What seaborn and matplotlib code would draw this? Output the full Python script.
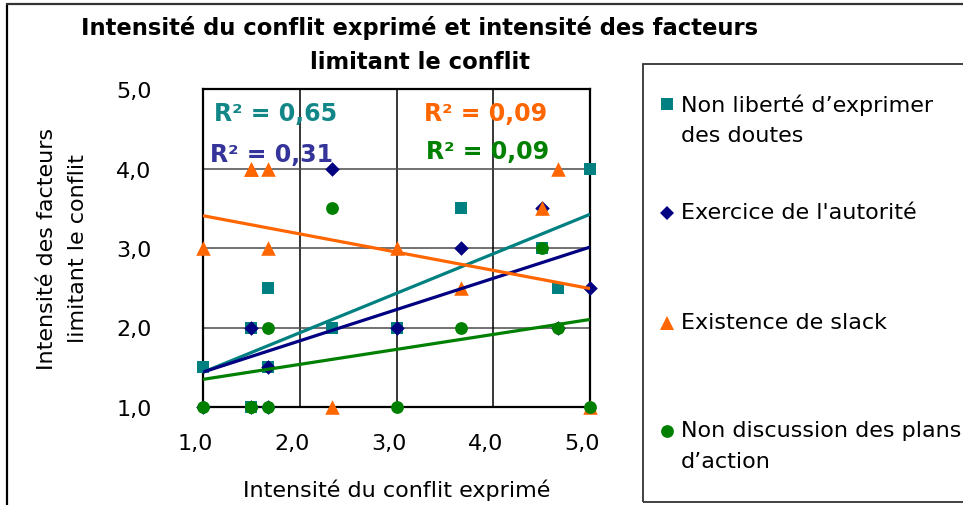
import numpy as np
import pandas as pd
import matplotlib
matplotlib.use("Agg")
import matplotlib.pyplot as plt
from matplotlib.lines import Line2D
from matplotlib.patches import Rectangle
from matplotlib.transforms import ScaledTranslation
import seaborn as sns

# Intensité du conflit exprimé (one value per respondent)
intensite_conflit = [1.0, 1.5, 1.5, 1.67, 1.67, 2.33, 3.0, 3.67, 4.5, 4.67, 5.0]

# Intensité des facteurs limitant le conflit, per factor
non_liberte = [1.5, 2.0, 1.0, 2.5, 1.5, 2.0, 2.0, 3.5, 3.0, 2.5, 4.0]
autorite = [1.0, 2.0, 1.0, 1.5, 1.0, 4.0, 2.0, 3.0, 3.5, 2.0, 2.5]
slack = [3.0, 4.0, 4.0, 4.0, 3.0, 1.0, 3.0, 2.5, 3.5, 4.0, 1.0]
plans_action = [1.0, 1.0, 1.0, 2.0, 1.0, 3.5, 1.0, 2.0, 3.0, 2.0, 1.0]

series_labels = [
    "Non liberté d\u2019exprimer\ndes doutes",
    "Exercice de l'autorité",
    "Existence de slack",
    "Non discussion des plans\nd\u2019action",
]
r2_labels = ["R\u00b2 = 0,65", "R\u00b2 = 0,31", "R\u00b2 = 0,09", "R\u00b2 = 0,09"]

tick_values = [1, 2, 3, 4, 5]
tick_labels = ["1,0", "2,0", "3,0", "4,0", "5,0"]

colors = ["#008080", "#000080", "#FF6600", "#008000"]
text_colors = ["#138787", "#34349a", "#FF6600", "#008000"]
markers = ["s", "D", "^", "o"]
sizes = [78, 55, 110, 85]

sns.set_style("white")
plt.rcParams["font.family"] = ["DejaVu Sans"]
plt.rcParams["text.color"] = "black"
plt.rcParams["axes.labelcolor"] = "black"
plt.rcParams["xtick.color"] = "black"
plt.rcParams["ytick.color"] = "black"

W, H = 963, 506
fig = plt.figure(figsize=(W / 100, H / 100), dpi=100)


def fx(px):
    return px / W


def fy(py):
    return 1 - py / H


ax = fig.add_axes([fx(203), fy(408), fx(590) - fx(203), fy(90) - fy(408)])

df = pd.DataFrame({
    "x": intensite_conflit,
    "y0": non_liberte,
    "y1": autorite,
    "y2": slack,
    "y3": plans_action,
})

for i in range(4):
    sns.scatterplot(data=df, x="x", y=f"y{i}", ax=ax, marker=markers[i],
                    color=colors[i], s=sizes[i], linewidth=0,
                    clip_on=False, zorder=3 + i * 0.1, legend=False)

for i in range(4):
    sns.regplot(data=df, x="x", y=f"y{i}", ax=ax, scatter=False, ci=None,
                truncate=True,
                line_kws=dict(color=colors[i], lw=2.3, zorder=5,
                              solid_capstyle="butt"))

ax.set_xlim(1, 5)
ax.set_ylim(1, 5)
ax.set_xticks(tick_values)
ax.set_xticklabels(tick_labels)
ax.set_yticks(tick_values)
ax.set_yticklabels(tick_labels)

ax.tick_params(axis="both", direction="out", length=6, width=1,
               colors="#333333", labelcolor="black", labelsize=16)
ax.tick_params(axis="y", pad=31)
ax.tick_params(axis="x", pad=13)

for lab in ax.get_xticklabels():
    lab.set_transform(lab.get_transform() +
                      ScaledTranslation(-0.08, 0, fig.dpi_scale_trans))

for v in tick_values[1:-1]:
    ax.axvline(v, color="black", lw=1.1, zorder=1)
    ax.axhline(v, color="#4a4a4a", lw=1.1, zorder=1)

for side in ["left", "bottom", "top", "right"]:
    ax.spines[side].set_color("black")
    ax.spines[side].set_linewidth(1.6)

ax.set_xlabel("Intensité du conflit exprimé", fontsize=16, labelpad=18)
ax.set_ylabel("Intensité des facteurs\nlimitant le conflit", fontsize=16,
              linespacing=1.7)
ax.yaxis.set_label_coords(-0.296, 0.5)

# R² annotations
r2_pos = [(0.028, 0.925), (0.018, 0.795), (0.571, 0.925), (0.575, 0.805)]
for i in range(4):
    ax.text(r2_pos[i][0], r2_pos[i][1], r2_labels[i], transform=ax.transAxes,
            color=text_colors[i], fontsize=17, fontweight="bold",
            ha="left", va="center", zorder=6)

fig.text(fx(420), fy(45), "Intensité du conflit exprimé et intensité des facteurs\nlimitant le conflit",
         ha="center", va="center", fontsize=16.3, fontweight="bold",
         linespacing=1.6)

# Outer chart border (left and top edges)
fig.add_artist(Line2D([fx(7), fx(7)], [fy(5), 0], transform=fig.transFigure,
                      color="black", lw=1.6))
fig.add_artist(Line2D([fx(7), 1], [fy(5), fy(5)], transform=fig.transFigure,
                      color="#333333", lw=1.6))

# Legend box
fig.add_artist(Rectangle((fx(643), fy(503)), 1, fy(65) - fy(503),
                         transform=fig.transFigure, fill=False,
                         edgecolor="#333333", lw=1.3))

legend_rows = [106, 215, 325, 433]
for i in range(4):
    fig.add_artist(Line2D([fx(667)], [fy(legend_rows[i] - 1)],
                          transform=fig.transFigure, marker=markers[i],
                          color=colors[i], markersize=np.sqrt(sizes[i]),
                          markeredgewidth=0, linestyle="none"))
    fig.text(fx(681), fy(legend_rows[i] - 12), series_labels[i],
             ha="left", va="top", fontsize=16, linespacing=1.68)

fig.savefig("out.png", dpi=100)
